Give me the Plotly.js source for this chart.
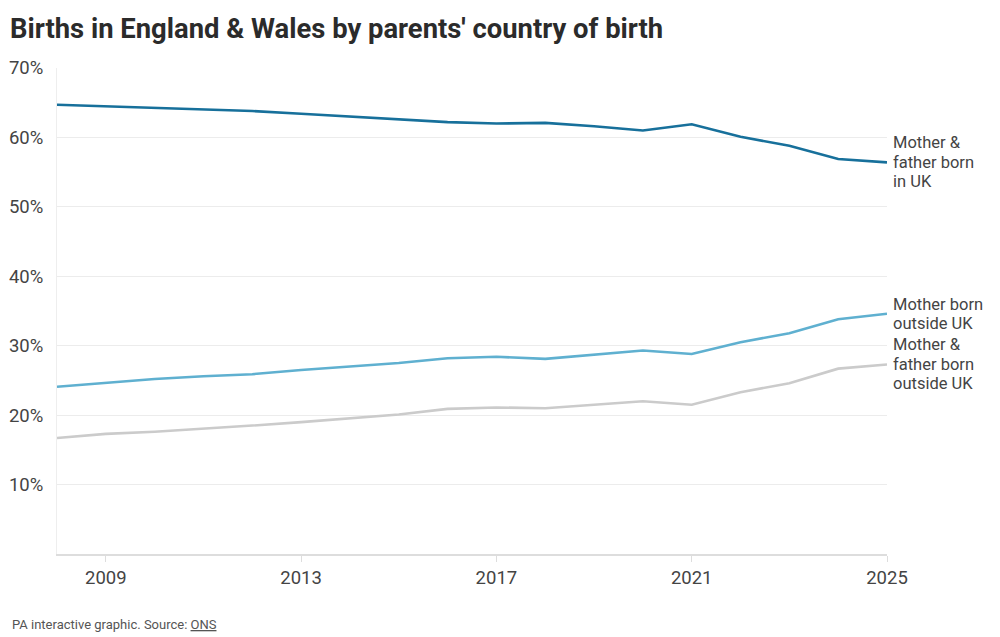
<!DOCTYPE html>
<html>
<head>
<meta charset="utf-8">
<script src="https://cdn.plot.ly/plotly-3.0.1.min.js"></script>
<style>html,body{margin:0;padding:0;background:#fff;}#chart{width:1000px;height:637px;}</style>
</head>
<body>
<div id="chart"></div>
<script>
const years = [2008,2009,2010,2011,2012,2013,2014,2015,2016,2017,2018,2019,2020,2021,2022,2023,2024,2025];
const bothUK = [64.7,64.5,64.3,64.1,63.8,63.4,63.0,62.6,62.2,62.0,62.1,61.6,61.0,61.9,60.1,58.8,56.9,56.4];
const motherOutside = [24.1,24.7,25.2,25.6,25.9,26.5,27.0,27.5,28.2,28.4,28.1,28.7,29.3,28.8,30.5,31.8,33.8,34.6];
const bothOutside = [16.7,17.3,17.6,18.0,18.5,19.0,19.5,20.1,20.9,21.1,21.0,21.5,22.0,21.5,23.3,24.6,26.7,27.3];
const seriesNames = [
  ['Mother &','father born','in UK'],
  ['Mother born','outside UK'],
  ['Mother &','father born','outside UK']
];
const xTicks = [2009,2013,2017,2021,2025];
const yTicks = [10,20,30,40,50,60,70];
const yTickLabels = ['10%','20%','30%','40%','50%','60%','70%'];

const colors = ['#17709b','#5fb0d0','#cbcbcb'];
const series = [bothUK, motherOutside, bothOutside];
const font = 'Roboto, "Liberation Sans", Arial, sans-serif';

const traces = series.map((s,i)=>({
  x: years, y: s, type:'scatter', mode:'lines',
  line:{color:colors[i], width:2.6}, hoverinfo:'skip', showlegend:false
}));

const lineGap = 19.5;
const annotations = [];
series.forEach((s,i)=>{
  const lines = seriesNames[i];
  const n = lines.length;
  lines.forEach((t,k)=>{
    annotations.push({
      x: years[years.length-1], y: s[s.length-1], xref:'x', yref:'y',
      text: t, showarrow:false, xanchor:'left', yanchor:'middle',
      xshift: 5, yshift: ((n-1)/2 - k)*lineGap, align:'left',
      borderpad: 0,
      font:{family:font, size:16.5, color:'#444'}
    });
  });
});
annotations.push({
  xref:'paper', yref:'paper', x:-0.057, y:-0.145, xanchor:'left', yanchor:'middle',
  showarrow:false, align:'left',
  text:'PA interactive graphic. Source: <span style="text-decoration:underline">ONS</span>',
  font:{family:font, size:13, color:'#555'}
});

const layout = {
  width:1000, height:637,
  margin:{l:57, r:113, t:68, b:83},
  paper_bgcolor:'#fff', plot_bgcolor:'#fff',
  title:{text:'<b>Births in England & Wales by parents\' country of birth</b>', x:0.01, xanchor:'left', y:0.956, yanchor:'middle',
    font:{family:font, size:27.4, color:'#2b2b2b'}},
  xaxis:{range:[2008,2025], tickvals:xTicks, ticktext:xTicks.map(String), showgrid:false,
    showline:true, linecolor:'#ddd', linewidth:1.5, ticks:'outside', ticklen:6, tickcolor:'#ddd',
    tickfont:{family:font, size:18.5, color:'#444'}, zeroline:false, fixedrange:true},
  yaxis:{range:[0,70], tickvals:yTicks, ticktext:yTickLabels, showgrid:true, gridcolor:'#ececec', gridwidth:1,
    showline:true, linecolor:'#eee', linewidth:1, ticks:'', ticklabelstandoff:9,
    tickfont:{family:font, size:18.5, color:'#444'}, zeroline:false, fixedrange:true},
  annotations: annotations
};
Plotly.newPlot('chart', traces, layout, {displayModeBar:false, staticPlot:true});
</script>
</body>
</html>
